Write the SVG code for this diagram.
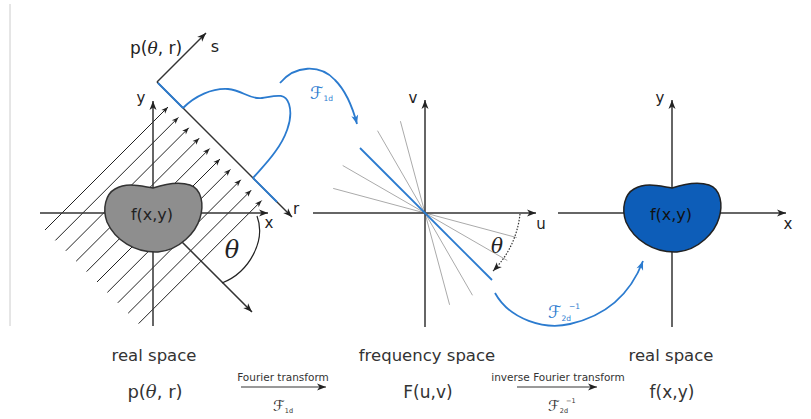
<svg xmlns="http://www.w3.org/2000/svg" xmlns:xlink="http://www.w3.org/1999/xlink" width="811" height="419" viewBox="0 0 811 419">
<style>
.ax{stroke:#333;stroke-width:1.5;fill:none}
.ray{stroke:#222;stroke-width:1;fill:none}
.blue{stroke:#2b7bcf;stroke-width:1.8;fill:none}
.gl{stroke:#aaa;stroke-width:1;fill:none}
.lbl{font-family:"DejaVu Sans","Liberation Sans",sans-serif;fill:#222}
.th{font-family:"DejaVu Serif","Liberation Serif",serif;font-style:italic;fill:#222}
.sf{font-family:"DejaVu Sans","DejaVu Serif",serif;fill:#2b7bcf}
.sfd{font-family:"DejaVu Sans","DejaVu Serif",serif;fill:#333}
</style>
<defs>
<marker id="ah" viewBox="-10 -5 12 10" refX="0" refY="0" markerWidth="12" markerHeight="10" markerUnits="userSpaceOnUse" orient="auto"><path d="M0,0 L-9,-3.5 L-6.5,0 L-9,3.5 Z" fill="#222"/></marker>
<marker id="ahs" viewBox="-10 -5 12 10" refX="0" refY="0" markerWidth="9" markerHeight="7.5" markerUnits="userSpaceOnUse" orient="auto"><path d="M0,0 L-9,-3.5 L-6.5,0 L-9,3.5 Z" fill="#222"/></marker>
<marker id="ahb" viewBox="-10 -5 12 10" refX="0" refY="0" markerWidth="12" markerHeight="10" markerUnits="userSpaceOnUse" orient="auto"><path d="M0,0 L-9,-3.5 L-6.5,0 L-9,3.5 Z" fill="#2b7bcf"/></marker>
<path id="bean" d="M0,-25 C12,-29 25,-32 37,-28 C49,-24 51,-8 47,5 C43,19 27,37 5,39 C-18,40 -38,27 -46,9 C-51,-5 -47,-19 -38,-24 C-26,-31 -13,-27 0,-25 Z"/>
</defs>
<rect width="811" height="419" fill="#fff"/>
<line x1="10" y1="4" x2="10" y2="326" stroke="#ccc" stroke-width="1"/>

<g id="real-space-projection">
<g marker-end="url(#ahs)">
<path class="ray" d="M45,230 L168,107"/>
<path class="ray" d="M55.4,240.4 L178.4,117.4"/>
<path class="ray" d="M65.8,250.8 L188.8,127.8"/>
<path class="ray" d="M76.2,261.2 L199.2,138.2"/>
<path class="ray" d="M86.6,271.6 L209.6,148.6"/>
<path class="ray" d="M97,282 L220,159"/>
<path class="ray" d="M107.4,292.4 L230.4,169.4"/>
<path class="ray" d="M117.8,302.8 L240.8,179.8"/>
<path class="ray" d="M128.2,313.2 L251.2,190.2"/>
<path class="ray" d="M138.6,323.6 L261.6,200.6"/>
</g>
<line class="ax" x1="40" y1="213" x2="268" y2="213" marker-end="url(#ah)"/>
<line class="ax" x1="153" y1="326" x2="153" y2="101" marker-end="url(#ah)"/>
<line class="ax" x1="153" y1="213" x2="252" y2="312" marker-end="url(#ah)"/>
<line class="ax" x1="157" y1="82" x2="206" y2="33" marker-end="url(#ah)"/>
<line class="ax" x1="157" y1="82" x2="292" y2="217" marker-end="url(#ah)"/>
<line class="blue" x1="158" y1="83" x2="183" y2="108"/>
<line class="blue" x1="253" y1="178" x2="277" y2="202"/>
<path class="blue" stroke-width="1.5" d="M183,108 C195,96 212,88 228,89 C242,90 250,100 262,98 C275,96 285,92 289,104 C294,120 284,140 275,152 C268,162 258,172 253,178"/>
<path d="M257,216 C266,240 250,272 222,283" fill="none" stroke="#222" stroke-width="1.2"/>
<use xlink:href="#bean" href="#bean" x="153" y="213" fill="#8e8e8e" stroke="#333" stroke-width="1.5"/>
<text class="lbl" x="152" y="220" font-size="16" text-anchor="middle">f(x,y)</text>
<text class="lbl" x="269" y="228" font-size="15" text-anchor="middle">x</text>
<text class="lbl" x="141" y="103" font-size="15" text-anchor="middle">y</text>
<text class="lbl" x="296" y="214" font-size="15" text-anchor="middle">r</text>
<text class="lbl" x="215" y="52" font-size="16" text-anchor="middle">s</text>
<text class="lbl" x="156" y="54" font-size="17" text-anchor="middle">p(<tspan class="th">θ</tspan>, r)</text>
<text class="th" x="232" y="258" font-size="24" text-anchor="middle">θ</text>
</g>

<g id="frequency-space">
<line class="gl" x1="333.2" y1="188.4" x2="516.8" y2="237.6"/>
<line class="gl" x1="342.7" y1="165.5" x2="507.3" y2="260.5"/>
<line class="gl" x1="377.5" y1="130.7" x2="472.5" y2="295.3"/>
<line class="gl" x1="400.4" y1="121.2" x2="449.6" y2="304.8"/>
<line class="ax" stroke="#444" stroke-width="1.8" x1="313" y1="213" x2="536" y2="213" marker-end="url(#ah)"/>
<line class="ax" stroke="#444" stroke-width="1.8" x1="425" y1="327" x2="425" y2="100" marker-end="url(#ah)"/>
<line class="blue" x1="360" y1="148" x2="492" y2="280"/>
<path d="M520,214 A95,95 0 0 1 493,271" fill="none" stroke="#333" stroke-width="1.2" stroke-dasharray="1.5,1.5" marker-end="url(#ah)"/>
<text class="th" x="497" y="253" font-size="20" text-anchor="middle">θ</text>
<text class="lbl" x="413" y="103" font-size="15" text-anchor="middle">v</text>
<text class="lbl" x="541" y="229" font-size="15" text-anchor="middle">u</text>
</g>

<g id="real-space-object">
<line class="ax" x1="558" y1="213" x2="786" y2="213" marker-end="url(#ah)"/>
<line class="ax" x1="672" y1="327" x2="672" y2="100" marker-end="url(#ah)"/>
<use xlink:href="#bean" href="#bean" x="672" y="213" fill="#0d5db8" stroke="#222" stroke-width="1.5"/>
<text class="lbl" x="671" y="220" font-size="16" text-anchor="middle" style="fill:#111">f(x,y)</text>
<text class="lbl" x="788" y="229" font-size="15" text-anchor="middle">x</text>
<text class="lbl" x="660" y="103" font-size="15" text-anchor="middle">y</text>
</g>

<g id="connectors">
<path class="blue" d="M280,83 C295,65 320,64 335,80 C345,90 352,105 357,124" marker-end="url(#ahb)"/>
<text class="sf" x="310" y="99" font-size="17">ℱ<tspan font-size="7.5" dy="2">1d</tspan></text>
<path class="blue" stroke-width="1.5" d="M495,293 C510,320 545,330 570,324 C605,316 630,295 643,261" marker-end="url(#ahb)"/>
<text class="sf" x="548" y="318" font-size="17">ℱ<tspan font-size="7.5" dy="3">2d</tspan><tspan font-size="7.5" dx="-2" dy="-12">−1</tspan></text>
<line x1="241" y1="387" x2="326" y2="387" stroke="#777" stroke-width="1.5" marker-end="url(#ah)"/>
<line x1="517" y1="387" x2="597" y2="387" stroke="#777" stroke-width="1.5" marker-end="url(#ah)"/>
</g>

<g id="captions">
<text class="lbl" x="154" y="361" font-size="16.5" text-anchor="middle" style="fill:#333">real space</text>
<text class="lbl" x="427" y="361" font-size="16.5" text-anchor="middle" style="fill:#333">frequency space</text>
<text class="lbl" x="671" y="361" font-size="16.5" text-anchor="middle" style="fill:#333">real space</text>
<text class="lbl" x="155" y="398" font-size="18" text-anchor="middle" style="fill:#333">p(<tspan class="th" style="fill:#333">θ</tspan>, r)</text>
<text class="lbl" x="428" y="398" font-size="17" text-anchor="middle" style="fill:#333">F(u,v)</text>
<text class="lbl" x="672" y="398" font-size="17" text-anchor="middle" style="fill:#333">f(x,y)</text>
<text class="lbl" x="283" y="381" font-size="10.5" text-anchor="middle" style="fill:#333">Fourier transform</text>
<text class="lbl" x="558" y="381" font-size="10.5" text-anchor="middle" style="fill:#333">inverse Fourier transform</text>
<text class="sfd" x="273" y="411" font-size="15">ℱ<tspan font-size="6.5" dy="2">1d</tspan></text>
<text class="sfd" x="548" y="411" font-size="15">ℱ<tspan font-size="6.5" dy="2">2d</tspan><tspan font-size="6.5" dx="-2" dy="-10">−1</tspan></text>
</g>
</svg>
